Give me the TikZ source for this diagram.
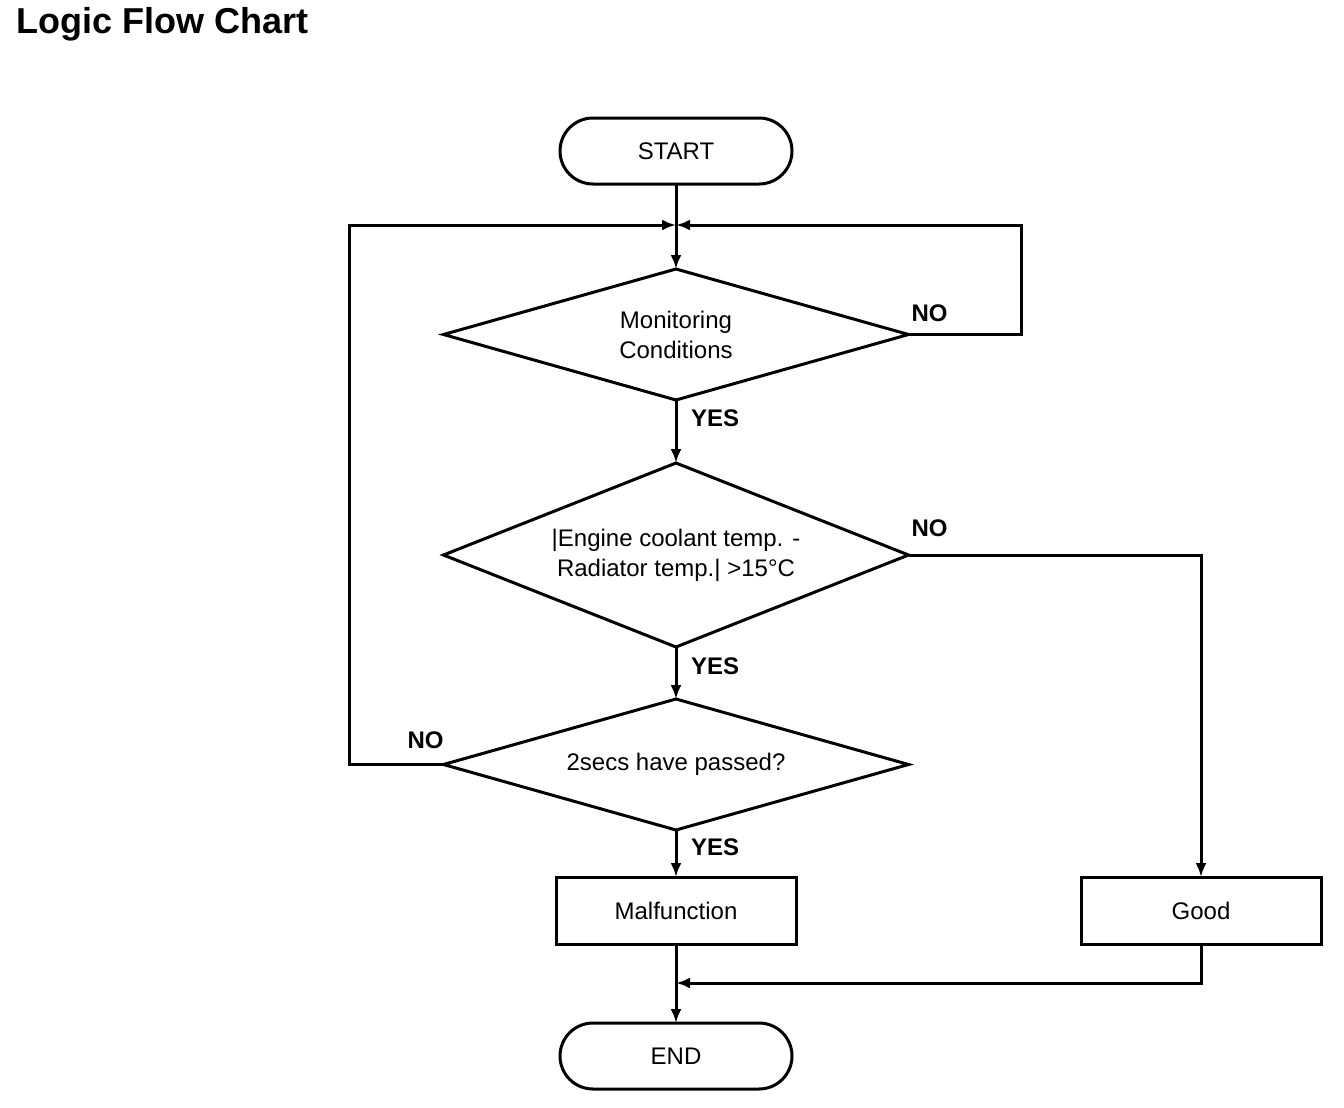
\documentclass[tikz,border=0pt]{standalone}
\usepackage{fontspec}
\setmainfont{Liberation Sans}
\usetikzlibrary{positioning,shapes.geometric,arrows.meta}
\tikzstyle{logic flow}=[
    ->,>={Latex[length=7pt,width=5.5pt]},line width=1.5pt,
    x=0.5pt,y=-0.5pt,
    every node/.style={
        align=center,
        outer sep=0pt,
        font=\fontsize{12}{15}\selectfont,
    }]
\tikzstyle{terminal}=[draw,rounded corners=16.5pt,minimum width=116pt,minimum height=33pt]
\tikzstyle{decision}=[draw,diamond,inner sep=0pt,aspect=3.55,minimum width=232.5pt,minimum height=65.5pt]
\tikzstyle{process}=[draw,minimum width=120pt,minimum height=33.5pt]
\tikzstyle{answer}=[inner sep=0pt,font=\fontsize{12}{15}\selectfont\bfseries]

\begin{document}
\begin{tikzpicture}[logic flow]
        \useasboundingbox (0,0) rectangle (1344,1108);
        \node[anchor=base west,font=\fontsize{18}{22}\selectfont\bfseries] (title) at (10,33) {Logic Flow Chart};
        \node[terminal] (start) at (676,151) {START};
        \node[decision, below=42.5pt of start] (cond) {Monitoring\\Conditions};
        \node[decision, aspect=2.53, minimum height=92pt, below=31.5pt of cond] (temp) {|Engine coolant temp. -\\Radiator temp.| >15°C};
        \node[decision, below=26pt of temp] (time) {2secs have passed?};
        \node[process, below=23.5pt of time] (malf) {Malfunction};
        \node[process, right=142.5pt of malf] (good) {Good};
        \node[terminal, below=39.5pt of malf] (end) {END};
        \coordinate[below=20.5pt of start] (merge);
        \coordinate[below=19.5pt of malf] (join);

        \path
            (start) edge (cond)
            (cond) edge node[answer, right=7.5pt, pos=0.29] {YES} (temp)
            (temp) edge node[answer, right=7.5pt, pos=0.37] {YES} (time)
            (time) edge node[answer, right=7.5pt, pos=0.36] {YES} (malf)
            (malf) edge (end)
        ;
        % loops back to the top
        \draw (cond.east) -- node[answer, pos=0, anchor=south west, xshift=1.5pt, yshift=6.5pt] {NO} ++(56.5pt,0) |- (merge);
        \draw (time.west) -- node[answer, pos=0, anchor=south east, yshift=8pt] {NO} ++(-47pt,0) |- (merge);
        \draw (temp.east) -- node[answer, pos=0, anchor=south west, xshift=1.5pt, yshift=9pt] {NO} (temp.east -| good) -- (good);
        \draw (good) |- (join);
    \end{tikzpicture}
\end{document}
